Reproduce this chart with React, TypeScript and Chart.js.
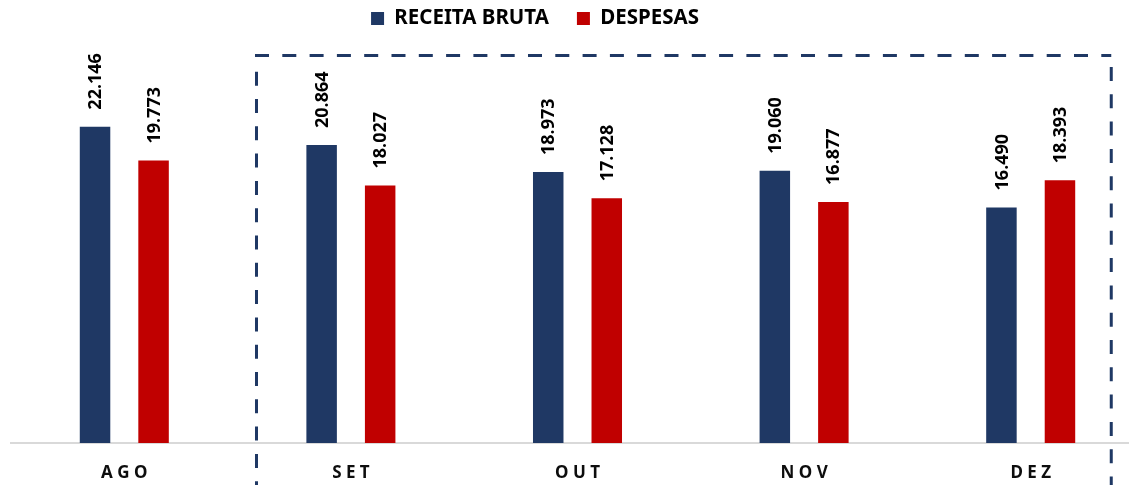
import React, { useEffect, useRef } from "react";
import { Chart, registerables } from "chart.js";

Chart.register(...registerables);

const categories = ["AGO", "SET", "OUT", "NOV", "DEZ"];
const receitaBruta = [22146, 20864, 18973, 19060, 16490];
const despesas = [19773, 18027, 17128, 16877, 18393];
const seriesNames = ["RECEITA BRUTA", "DESPESAS"];

const BLUE = "#1F3864";
const RED = "#C00000";

function fmt(v: number): string {
  const s = Math.round(v).toString();
  return s.replace(/\B(?=(\d{3})+(?!\d))/g, ".");
}

const dataLabelPlugin = {
  id: "dataLabels",
  afterDatasetsDraw(chart: any) {
    const ctx = chart.ctx;
    ctx.save();
    ctx.font = "bold 18px 'Noto Sans'";
    ctx.fillStyle = "#000000";
    ctx.textAlign = "left";
    ctx.textBaseline = "middle";
    chart.data.datasets.forEach((ds: any, di: number) => {
      const meta = chart.getDatasetMeta(di);
      meta.data.forEach((bar: any, i: number) => {
        const v = ds.data[i];
        ctx.save();
        ctx.translate(bar.x, bar.y - 17);
        ctx.rotate(-Math.PI / 2);
        ctx.fillText(fmt(v), 0, 1);
        ctx.restore();
      });
    });
    ctx.restore();
  },
};

const dashedBoxPlugin = {
  id: "dashedBox",
  afterDraw(chart: any) {
    const ctx = chart.ctx;
    const xs = chart.scales.x;
    const area = chart.chartArea;
    const bin = (area.right - area.left) / categories.length;
    const left = xs.getPixelForValue(1) - 0.4166 * bin;
    const right = xs.getPixelForValue(4) + 0.3555 * bin;
    const top = area.top + 16.75;
    const bottom = chart.height + 20;
    ctx.save();
    ctx.strokeStyle = BLUE;
    ctx.lineWidth = 3;
    ctx.setLineDash([14, 13.3]);
    ctx.beginPath();
    ctx.moveTo(left - 1.5, top);
    ctx.lineTo(right, top);
    ctx.stroke();
    ctx.beginPath();
    ctx.moveTo(right, top + 11.5);
    ctx.lineTo(right, bottom);
    ctx.stroke();
    ctx.beginPath();
    ctx.moveTo(left, top + 16.2);
    ctx.lineTo(left, bottom);
    ctx.stroke();
    ctx.restore();
  },
};

export default function App() {
  const ref = useRef<HTMLCanvasElement | null>(null);
  useEffect(() => {
    if (!ref.current) return;
    Chart.defaults.font.family = "'Noto Sans'";
    const chart = new Chart(ref.current, {
      type: "bar",
      data: {
        labels: categories,
        datasets: [
          {
            label: seriesNames[0],
            data: receitaBruta,
            backgroundColor: BLUE,
            categoryPercentage: 0.5166,
            barPercentage: 0.521,
          },
          {
            label: seriesNames[1],
            data: despesas,
            backgroundColor: RED,
            categoryPercentage: 0.5166,
            barPercentage: 0.521,
          },
        ],
      },
      options: {
        animation: false,
        responsive: true,
        maintainAspectRatio: false,
        layout: { padding: { left: 0, right: 0, top: -19.75, bottom: -18.4 } },
        plugins: {
          tooltip: { enabled: false },
          legend: {
            display: true,
            position: "top",
            align: "center",
            labels: {
              boxWidth: 13,
              boxHeight: 13,
              padding: 28,
              color: "#000000",
              font: { size: 20.5, weight: "bold", family: "'Noto Sans'" },
            },
          },
        },
        scales: {
          x: {
            grid: { display: false, drawTicks: false },
            border: { display: true, color: "#D9D9D9", width: 2 },
            ticks: {
              padding: 20,
              color: "#0D0D0D",
              font: { size: 17, weight: "bold", family: "'Noto Sans'" },
              callback: (_v: any, i: number) => categories[i].split("").join(" "),
            },
          },
          y: {
            display: true,
            min: 0,
            max: 28300,
            grid: { display: false, drawTicks: false },
            border: { display: false },
            ticks: { display: false },
            afterFit: (s: any) => {
              s.width = 85;
            },
          },
        },
      },
      plugins: [dataLabelPlugin, dashedBoxPlugin],
    } as any);
    return () => chart.destroy();
  }, []);

  return (
    <div
      style={{
        position: "fixed",
        left: 0,
        top: 0,
        width: 1129,
        height: 485,
        overflow: "hidden",
        background: "#ffffff",
      }}
    >
      <div style={{ position: "absolute", left: -74, top: 0, width: 1218, height: 485 }}>
        <canvas ref={ref} />
      </div>
    </div>
  );
}
